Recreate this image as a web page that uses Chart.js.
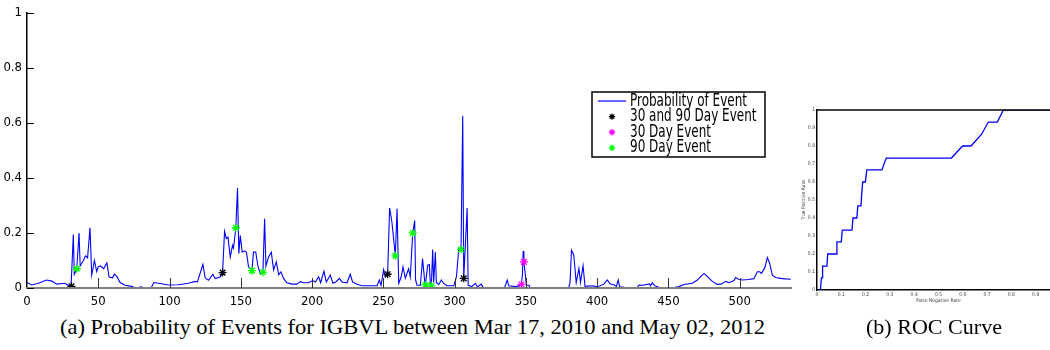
<!DOCTYPE html>
<html><head><meta charset="utf-8">
<script src="https://cdn.jsdelivr.net/npm/chart.js@4.4.1/dist/chart.umd.min.js"></script>
<style>
html,body{margin:0;padding:0;background:#fff;width:1050px;height:350px;overflow:hidden;position:relative}
#c1{position:absolute;left:0;top:0}
#c2{position:absolute;left:790px;top:95px}
.cap{position:absolute;top:317px;font-family:'Liberation Serif','Times New Roman',serif;font-size:21px;line-height:1;white-space:nowrap;transform-origin:0 0;color:#000}
</style></head><body>
<canvas id="c1" width="800" height="310"></canvas>
<canvas id="c2" width="290" height="215"></canvas>
<div class="cap" id="capA">(a) Probability of Events for IGBVL between Mar 17, 2010 and May 02, 2012</div>
<div class="cap" id="capB">(b) ROC Curve</div>
<script>
// ---------- data ----------
const seriesLabels = ['Probability of Event', '30 and 90 Day Event', '30 Day Event', '90 Day Event'];
const probability = [[0,0.02],[3.3,0.011],[8,0.017],[13.8,0.029],[17.5,0.025],[20.8,0.014],[26.7,0.017],[28.6,0.01],[30.9,0.005],[32.5,0.194],[33.2,0.05],[34.9,0.07],[36.5,0.2],[37.3,0.08],[39.6,0.1],[41,0.117],[42.5,0.11],[44.2,0.219],[45.4,0.047],[47.3,0.1],[48.9,0.06],[49.9,0.077],[51.5,0.08],[53.8,0.07],[56,0.091],[57.6,0.04],[60,0.037],[61.3,0.05],[63,0.042],[65.3,0.02],[68.8,0.01],[73.5,0.006],[76,0],[80.5,0.004],[81.5,0],[87,0],[89,0.02],[92.2,0.017],[99.2,0.011],[106.3,0.012],[113.3,0.017],[118,0.024],[119.6,0.022],[123.4,0.086],[125,0.037],[127.3,0.028],[130.4,0.05],[132,0.034],[135.6,0.04],[137.2,0.055],[138.6,0.206],[139.8,0.18],[141,0.185],[142.6,0.113],[144.2,0.155],[144.9,0.145],[146.5,0.219],[147.7,0.363],[148.6,0.125],[149.6,0.191],[151,0.13],[152.8,0.135],[154,0.13],[155.4,0.077],[157.8,0.063],[158.9,0.131],[160.5,0.13],[162,0.08],[163.6,0.053],[165.5,0.057],[166.7,0.252],[167.6,0.08],[169.5,0.113],[171.4,0.13],[173,0.065],[174.9,0.095],[176.6,0.048],[178.1,0.059],[180,0.035],[182.3,0.019],[185.9,0.014],[189.4,0.014],[191.7,0.023],[194,0.019],[197.6,0.019],[200.4,0.027],[202.3,0.022],[204.6,0.041],[206,0.019],[208.3,0.061],[210,0.022],[212.8,0.047],[214.6,0.017],[216.7,0.022],[219.1,0.035],[221,0.022],[224.5,0.019],[226.8,0.05],[228.4,0.022],[231.5,0.014],[235,0.008],[239.7,0.008],[245.6,0.008],[247.2,0.029],[248.4,0.01],[250.2,0.067],[251.4,0.04],[253,0.05],[254.4,0.291],[256,0.24],[258.4,0.117],[259.6,0.288],[260.8,0.017],[262.5,0.04],[263.8,0.077],[265.4,0.036],[267.7,0.07],[268.9,0.04],[270.6,0.2],[272,0.245],[272.6,0.03],[273.6,0.01],[276,0.01],[277.5,0.107],[279,0.025],[279.5,0.011],[281.1,0.083],[282.3,0.085],[283,0.01],[283.7,0.008],[284.6,0.14],[285.3,0.02],[286.5,0.131],[287.2,0.02],[288.8,0.012],[290.7,0.029],[292.3,0.017],[294.6,0.008],[299.4,0.008],[301.3,0.041],[302.9,0.143],[304.5,0.14],[305.7,0.625],[306.4,0.035],[308.8,0.291],[309.5,0.01],[312,0.005],[314.6,0.017],[316,0.004],[318.6,0.014],[320,0.003],[322,0],[335,0],[336.9,0.029],[338,0.008],[343.4,0.005],[346.9,0.013],[347.6,0.05],[348.1,0.134],[348.6,0.095],[349.6,0.05],[350.3,0.01],[352.2,0.01],[353,0],[380,0],[381,0.02],[382,0.137],[383.6,0.12],[385.3,0.02],[387.2,0.071],[388.3,0.02],[390.1,0.081],[391.5,0.006],[397,0.008],[400,0.004],[404.7,0.014],[407.1,0.029],[409,0.015],[411.9,0.011],[413.5,0.006],[414.8,0.029],[415.8,0.003],[418.3,0.003],[419,0],[428,0],[429.3,0.011],[432,0.01],[436.6,0.015],[437.5,0.008],[438.6,0.019],[440.5,0.008],[443.3,0.003],[444,0],[453,0],[453.9,0.002],[457.4,0.005],[460.8,0.013],[466.8,0.017],[470.3,0.029],[472.6,0.041],[475,0.053],[477.4,0.041],[480.8,0.024],[484.3,0.013],[487,0.014],[490.2,0.024],[492.5,0.019],[496,0.027],[497.2,0.038],[498.8,0.033],[501.9,0.029],[506,0.031],[510,0.034],[512.4,0.059],[514,0.059],[515.2,0.053],[517.6,0.073],[519.4,0.111],[521,0.09],[522.9,0.047],[525.2,0.038],[528.7,0.035],[532.2,0.033],[535.8,0.032]];
const event30and90 = [[31.2,0.006],[137.2,0.056],[253,0.05],[306.4,0.035]];
const event30 = [[346.9,0.013],[348.6,0.095]];
const event90 = [[34.9,0.07],[146.5,0.219],[157.8,0.063],[165.5,0.057],[258.4,0.117],[270.6,0.2],[279.5,0.011],[283.7,0.008],[304.5,0.14]];
const mainXTicks = [0,50,100,150,200,250,300,350,400,450,500];
const mainYTicks = [0,0.2,0.4,0.6,0.8,1];
const rocCurve = [[0.007,0],[0.014,0],[0.018,0.067],[0.021,0.067],[0.023,0.133],[0.041,0.133],[0.044,0.2],[0.079,0.2],[0.082,0.267],[0.1,0.267],[0.104,0.333],[0.144,0.333],[0.148,0.4],[0.164,0.4],[0.168,0.467],[0.181,0.467],[0.184,0.533],[0.188,0.6],[0.199,0.6],[0.205,0.667],[0.267,0.667],[0.285,0.733],[0.553,0.733],[0.599,0.8],[0.634,0.8],[0.678,0.867],[0.705,0.933],[0.742,0.933],[0.767,1],[1,1]];
const rocTicks = [0,0.1,0.2,0.3,0.4,0.5,0.6,0.7,0.8,0.9,1];
const rocXTitle = 'False Negative Rate';
const rocYTitle = 'True Positive Rate';

// ---------- rendering ----------
const F = "'Liberation Sans Narrow','DejaVu Sans Condensed','Liberation Sans',sans-serif";
const toXY = a => a.map(p => ({x: p[0], y: p[1]}));
const fmt = v => String(Math.round(v * 100) / 100);

const inwardTicks = {
  id: 'inwardTicks',
  afterDraw(chart, args, o) {
    if (!o.enabled) return;
    const ctx = chart.ctx, xs = chart.scales.x, ys = chart.scales.y, a = chart.chartArea;
    ctx.save();
    ctx.lineWidth = 1;
    ctx.strokeStyle = '#000';
    ys.ticks.forEach(t => {
      const y = Math.round(ys.getPixelForValue(t.value)) + 0.5;
      ctx.beginPath(); ctx.moveTo(a.left, y); ctx.lineTo(a.left + o.yLen, y); ctx.stroke();
    });
    ctx.strokeStyle = '#333';
    xs.ticks.forEach(t => {
      if (t.value === 0) return;
      const x = Math.round(xs.getPixelForValue(t.value)) + 0.5;
      ctx.beginPath(); ctx.moveTo(x, a.bottom); ctx.lineTo(x, a.bottom - o.xLen); ctx.stroke();
    });
    ctx.restore();
  }
};

const boxLegend = {
  id: 'boxLegend',
  afterDraw(chart, args, o) {
    if (!o.enabled) return;
    const ctx = chart.ctx;
    ctx.save();
    ctx.fillStyle = '#fff';
    ctx.fillRect(o.x, o.y, o.w, o.h);
    ctx.strokeStyle = '#000'; ctx.lineWidth = 1.5;
    ctx.strokeRect(o.x, o.y, o.w, o.h);
    ctx.font = o.fontSize + 'px ' + F;
    ctx.textBaseline = 'middle';
    const ds = chart.data.datasets;
    const k = o.firstTextWidth / ctx.measureText(ds[0].label).width;
    ds.forEach((d, i) => {
      const y = o.y + o.rowStart + i * o.rowGap;
      if (d.pointRadius === 0) {
        ctx.strokeStyle = d.borderColor; ctx.lineWidth = 1.2;
        ctx.beginPath(); ctx.moveTo(o.x + 6, y); ctx.lineTo(o.x + 34, y); ctx.stroke();
      } else {
        ctx.strokeStyle = d.borderColor;
        Chart.helpers.drawPoint(ctx, {pointStyle: 'star', radius: 3.2, borderWidth: 1.2, rotation: 0}, o.x + 20, y);
      }
      ctx.save();
      ctx.translate(o.x + o.textX, y);
      ctx.scale(k, 1);
      ctx.fillStyle = '#000';
      ctx.fillText(d.label, 0, 0);
      ctx.restore();
    });
    ctx.restore();
  }
};

const rocFrame = {
  id: 'rocFrame',
  afterDraw(chart, args, o) {
    if (!o.enabled) return;
    const a = chart.chartArea, ctx = chart.ctx;
    ctx.save(); ctx.strokeStyle = '#000'; ctx.lineWidth = 1.5;
    ctx.beginPath(); ctx.moveTo(a.left, a.top); ctx.lineTo(a.right, a.top); ctx.stroke();
    ctx.restore();
  }
};

const starDs = (label, data, color) => ({
  label, data: toXY(data), showLine: false, pointStyle: 'star',
  pointRadius: 4, pointBorderWidth: 1.3, borderColor: color, backgroundColor: color,
  pointBorderColor: color, order: 0
});

new Chart(document.getElementById('c1'), {
  type: 'line',
  data: {
    datasets: [
      {label: seriesLabels[0], data: toXY(probability), borderColor: '#0000ff', borderWidth: 1.1,
       pointRadius: 0, tension: 0, fill: false, order: 10},
      starDs(seriesLabels[1], event30and90, '#000000'),
      starDs(seriesLabels[2], event30, '#ff00ff'),
      starDs(seriesLabels[3], event90, '#00ff00')
    ]
  },
  options: {
    responsive: false, animation: false, events: [],
    layout: {padding: {left: 0, top: 11, right: 9, bottom: 0}},
    plugins: {
      legend: {display: false}, tooltip: {enabled: false},
      inwardTicks: {enabled: true, xLen: 10, yLen: 7},
      boxLegend: {enabled: true, x: 592, y: 92, w: 173, h: 65, fontSize: 18, textX: 38,
                  firstTextWidth: 117, rowStart: 9, rowGap: 15.6}
    },
    scales: {
      x: {
        type: 'linear', min: 0, max: 536,
        afterFit(s) { s.height = 22; },
        afterBuildTicks(s) { s.ticks = mainXTicks.map(v => ({value: v})); },
        ticks: {includeBounds: false, padding: 6, color: '#000', maxRotation: 0, autoSkip: false,
                font: {family: F, size: 13}, callback: v => fmt(v)},
        grid: {drawOnChartArea: false, drawTicks: false},
        border: {display: true, color: '#808080', width: 2, z: 1}
      },
      y: {
        type: 'linear', min: 0, max: 1,
        afterFit(s) { s.width = 27; },
        afterBuildTicks(s) { s.ticks = mainYTicks.map(v => ({value: v})); },
        ticks: {padding: 5, color: '#000', font: {family: F, size: 13}, callback: v => fmt(v)},
        grid: {drawOnChartArea: false, drawTicks: false},
        border: {display: true, color: '#000', width: 1.5}
      }
    }
  },
  plugins: [inwardTicks, boxLegend]
});

new Chart(document.getElementById('c2'), {
  type: 'line',
  data: {datasets: [{label: 'ROC', data: toXY(rocCurve), borderColor: '#0000ff', borderWidth: 1.3,
                     pointRadius: 0, tension: 0, fill: false}]},
  options: {
    responsive: false, animation: false, events: [],
    layout: {padding: {left: 0, top: 15, right: 20, bottom: 0}},
    plugins: {legend: {display: false}, tooltip: {enabled: false}, rocFrame: {enabled: true}},
    scales: {
      x: {
        type: 'linear', min: 0, max: 1,
        afterFit(s) { s.height = 20; },
        afterBuildTicks(s) { s.ticks = rocTicks.map(v => ({value: v})); },
        ticks: {padding: 2, color: '#444', maxRotation: 0, autoSkip: false, font: {family: F, size: 5}, callback: v => fmt(v)},
        grid: {drawOnChartArea: false, drawTicks: false},
        border: {color: '#000', width: 1.5},
        title: {display: true, text: rocXTitle, color: '#444', font: {family: F, size: 5}, padding: {top: 0, bottom: 6}}
      },
      y: {
        type: 'linear', min: 0, max: 1,
        afterFit(s) { s.width = 27; },
        afterBuildTicks(s) { s.ticks = rocTicks.map(v => ({value: v})); },
        ticks: {padding: 2, color: '#444', autoSkip: false, font: {family: F, size: 5}, callback: v => fmt(v)},
        grid: {drawOnChartArea: false, drawTicks: false},
        border: {color: '#000', width: 1.5},
        title: {display: true, text: rocYTitle, color: '#444', font: {family: F, size: 5}, padding: {top: 11, bottom: 0}}
      }
    }
  },
  plugins: [rocFrame]
});

function fitCaption(id, left, width) {
  const el = document.getElementById(id);
  const w = el.getBoundingClientRect().width;
  el.style.left = left + 'px';
  el.style.transform = 'scaleX(' + (width / w) + ')';
}
fitCaption('capA', 60, 705);
fitCaption('capB', 866, 136);
</script>
</body></html>
